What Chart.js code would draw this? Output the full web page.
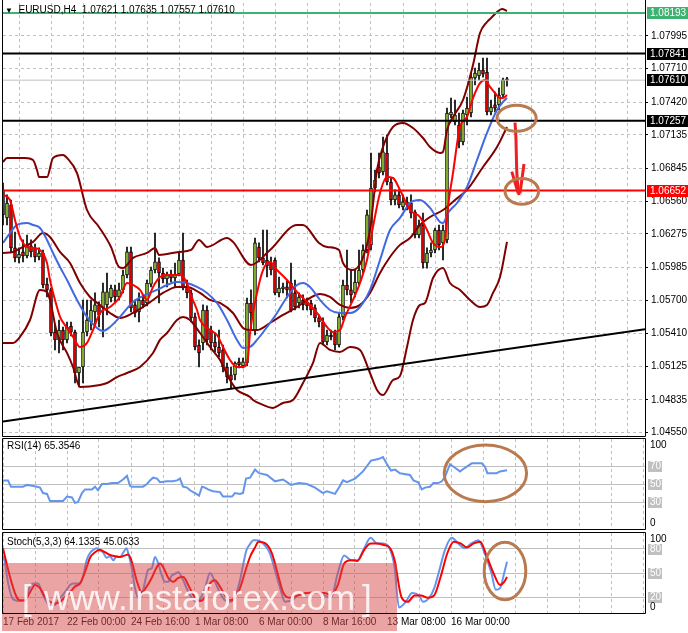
<!DOCTYPE html>
<html><head><meta charset="utf-8"><title>EURUSD H4</title>
<script src="https://cdn.jsdelivr.net/npm/chart.js@4.4.1/dist/chart.umd.min.js"></script>
<style>
html,body{margin:0;padding:0;background:#fff;}
body{width:688px;height:633px;position:relative;overflow:hidden;font-family:"Liberation Sans",Arial,sans-serif;}
canvas{position:absolute;left:0;}
#cMain{top:0}#cRsi{top:436px}#cSto{top:531px}
.lbl{position:absolute;font-size:10px;line-height:12px;color:#000;white-space:pre;}
</style></head><body>
<canvas id="cMain" width="688" height="440"></canvas>
<canvas id="cRsi" width="688" height="96"></canvas>
<canvas id="cSto" width="688" height="102"></canvas>
<div class="lbl" id="tMain" style="left:5px;top:4px"></div>
<div class="lbl" id="tRsi" style="left:7px;top:440px"></div>
<div class="lbl" id="tSto" style="left:7px;top:536px"></div>
<script>
// ---------------- DATA ----------------
const symbol = 'EURUSD,H4';
const timeTickBars = [0,16,32,48,64,80,96,112];
const timeTickLabels = ['17 Feb 2017','22 Feb 00:00','24 Feb 16:00','1 Mar 08:00','6 Mar 00:00','8 Mar 16:00','13 Mar 08:00','16 Mar 00:00'];
const priceTicks = [1.07995,1.07710,1.07420,1.07135,1.06845,1.06560,1.06275,1.05985,1.05700,1.05410,1.05125,1.04835,1.04550];
const levelPrices = [1.08193,1.07841,1.07610,1.07257,1.06652];

const open = [1.06657,1.06414,1.06527,1.06154,1.06067,1.06119,1.06084,1.06171,1.06154,1.06075,
1.06110,1.05840,1.05789,1.05424,1.05355,1.05441,1.05355,1.05476,1.05424,1.05068,
1.05120,1.05424,1.05511,1.05598,1.05659,1.05633,1.05659,1.05719,1.05789,1.05728,
1.05789,1.05919,1.06119,1.05659,1.05598,1.05702,1.05676,1.05840,1.05962,1.06032,
1.05936,1.05884,1.05927,1.05893,1.05927,1.06049,1.05823,1.05763,1.05555,1.05311,
1.05329,1.05615,1.05441,1.05337,1.05294,1.05268,1.05120,1.05051,1.05051,1.05164,
1.05129,1.05155,1.05676,1.05441,1.06162,1.06067,1.06049,1.06023,1.06049,1.05763,
1.05797,1.05815,1.05849,1.05763,1.05676,1.05702,1.05685,1.05676,1.05633,1.05546,
1.05511,1.05337,1.05398,1.05415,1.05311,1.05555,1.05832,1.05789,1.05763,1.05849,
1.05962,1.06136,1.06180,1.06674,1.06856,1.06813,1.06978,1.06726,1.06570,1.06614,
1.06510,1.06553,1.06544,1.06466,1.06266,1.06353,1.06023,1.06110,1.06136,1.06309,
1.06197,1.06223,1.07308,1.07247,1.07221,1.07074,1.07308,1.07325,1.07629,1.07646,
1.07698,1.07681,1.07334,1.07395,1.07395,1.07481,1.07621];
const high = [1.06717,1.06614,1.06570,1.06292,1.06154,1.06223,1.06266,1.06223,1.06188,1.06154,
1.06136,1.05893,1.05806,1.05485,1.05528,1.05467,1.05511,1.05511,1.05441,1.05120,
1.05702,1.05702,1.05702,1.05763,1.05685,1.05849,1.05936,1.05832,1.05832,1.05849,
1.05962,1.06162,1.06162,1.05702,1.05763,1.05728,1.05875,1.05988,1.06283,1.06067,
1.05979,1.05945,1.05962,1.06023,1.06110,1.06283,1.05875,1.05789,1.05589,1.05355,
1.05659,1.05650,1.05476,1.05415,1.05441,1.05311,1.05155,1.05120,1.05164,1.05198,
1.05198,1.05719,1.05789,1.06240,1.06197,1.06309,1.06309,1.06075,1.06067,1.05901,
1.05849,1.05875,1.06023,1.05875,1.05763,1.05746,1.05719,1.05702,1.05659,1.05572,
1.05546,1.05441,1.05441,1.05441,1.05589,1.05875,1.06136,1.05962,1.05962,1.06136,
1.06180,1.06483,1.06978,1.06830,1.06978,1.07117,1.07135,1.06761,1.06657,1.06657,
1.06614,1.06596,1.06614,1.06483,1.06396,1.06457,1.06154,1.06197,1.06327,1.06353,
1.06353,1.07368,1.07455,1.07438,1.07325,1.07351,1.07464,1.07672,1.07715,1.07759,
1.07802,1.07802,1.07438,1.07507,1.07542,1.07629,1.07635];
const low = [1.06353,1.06353,1.06119,1.06032,1.06023,1.06032,1.06067,1.06075,1.06032,1.06049,
1.05806,1.05728,1.05389,1.05268,1.05242,1.05268,1.05329,1.05389,1.04981,1.04946,
1.04981,1.05389,1.05441,1.05485,1.05467,1.05381,1.05572,1.05685,1.05676,1.05702,
1.05763,1.05893,1.05598,1.05555,1.05511,1.05633,1.05650,1.05815,1.05936,1.05676,
1.05849,1.05815,1.05858,1.05815,1.05910,1.05789,1.05719,1.05511,1.05268,1.05120,
1.05268,1.05311,1.05268,1.05250,1.05207,1.05077,1.04981,1.04938,1.05007,1.05112,
1.05112,1.05129,1.05441,1.05398,1.06032,1.06006,1.05901,1.05919,1.05746,1.05728,
1.05763,1.05719,1.05598,1.05615,1.05633,1.05615,1.05615,1.05572,1.05511,1.05467,
1.05311,1.05311,1.05355,1.05268,1.05294,1.05528,1.05746,1.05676,1.05728,1.05832,
1.05936,1.06110,1.06136,1.06639,1.06761,1.06787,1.06700,1.06527,1.06527,1.06501,
1.06483,1.06483,1.06414,1.06240,1.06240,1.05979,1.05979,1.06075,1.06110,1.06136,
1.06049,1.06197,1.07282,1.07221,1.07022,1.07048,1.07221,1.07291,1.07568,1.07612,
1.07637,1.07308,1.07308,1.07334,1.07351,1.07464,1.07557];
const close = [1.06440,1.06544,1.06154,1.06067,1.06101,1.06084,1.06180,1.06119,1.06075,1.06110,
1.05832,1.05789,1.05415,1.05355,1.05441,1.05355,1.05467,1.05424,1.05068,1.05120,
1.05424,1.05528,1.05615,1.05659,1.05572,1.05772,1.05772,1.05806,1.05728,1.05789,
1.05919,1.06119,1.05633,1.05589,1.05702,1.05659,1.05849,1.05962,1.06032,1.05936,
1.05884,1.05927,1.05893,1.05927,1.06049,1.05815,1.05763,1.05546,1.05294,1.05242,
1.05615,1.05355,1.05329,1.05294,1.05242,1.05120,1.05033,1.05007,1.05155,1.05138,
1.05164,1.05676,1.05589,1.06197,1.06067,1.06023,1.05997,1.05962,1.05763,1.05806,
1.05815,1.05789,1.05615,1.05641,1.05728,1.05659,1.05650,1.05615,1.05546,1.05511,
1.05337,1.05398,1.05381,1.05311,1.05555,1.05832,1.05789,1.05746,1.05858,1.05962,
1.06136,1.06440,1.06674,1.06743,1.06804,1.06987,1.06726,1.06570,1.06614,1.06527,
1.06553,1.06527,1.06457,1.06266,1.06353,1.06023,1.06110,1.06136,1.06309,1.06180,
1.06309,1.07325,1.07334,1.07308,1.07074,1.07325,1.07368,1.07637,1.07672,1.07698,
1.07663,1.07334,1.07377,1.07368,1.07481,1.07612,1.07610];

const bbUpperBar = [0,1,3,5.5,7.5,8.5,9,11,12.5,15,16,18.5,21,24,27,29,30,32.5,36,38,39,44,47,49,51,56,57.5,62,66.75,73.5,75,79,81,84,85,87.5,89.75,91.75,93.5,95,97.5,100,102.5,105,106.75,109.25,110,111,112.5,115,117.5,119.25,121,122.25,123.5,124.75,126];
const bbUpper = [1.06900,1.06935,1.06935,1.06935,1.06917,1.06830,1.06769,1.06769,1.06935,1.06961,1.06935,1.06804,1.06483,1.06336,1.06162,1.05988,1.05979,1.06067,1.06110,1.06154,1.06093,1.06119,1.06136,1.06223,1.06162,1.06240,1.06206,1.06006,1.06136,1.06353,1.06353,1.06197,1.06162,1.06136,1.06023,1.05962,1.06049,1.06309,1.06830,1.07030,1.07204,1.07238,1.07195,1.07108,1.07030,1.06978,1.06987,1.07178,1.07291,1.07438,1.07742,1.08020,1.08115,1.08158,1.08202,1.08228,1.08211];
const bbMidBar = [0,2.5,5,7.5,10,11.75,14.25,16.75,19.25,21.75,24.25,26.75,29.25,32.5,35,37.5,40,43.5,46,49.25,51.75,54.25,57.5,60,61.75,63.5,66.75,70,73.5,76.75,79.25,81.75,84.25,86.75,89.25,91.75,94.25,96.75,99.25,101.75,104.25,106.75,110,113,116,120,123.5,126];
const bbMid = [1.06110,1.06119,1.06162,1.06206,1.06283,1.06249,1.06119,1.06023,1.05849,1.05728,1.05659,1.05589,1.05546,1.05589,1.05641,1.05702,1.05763,1.05815,1.05815,1.05763,1.05702,1.05676,1.05589,1.05459,1.05441,1.05441,1.05502,1.05572,1.05641,1.05719,1.05754,1.05728,1.05659,1.05633,1.05659,1.05763,1.05936,1.06075,1.06180,1.06240,1.06353,1.06422,1.06483,1.06570,1.06657,1.06856,1.07030,1.07204];
const bbLowBar = [0,2.5,4.25,6.75,9.25,11,11.75,13.5,16,17.5,19.25,24.25,26,28.5,31,34.25,37.5,39.25,41,43.5,45,46.75,49.25,51.75,54.25,56.75,58.5,61.75,62.5,65,67.5,70,72.5,75,77.5,79.25,81.75,84.25,86.75,89.25,91.75,93.5,95,97.5,99.25,101,102.5,104.25,105.5,107.5,110,111.75,114.25,116.75,119.25,121,122.5,124.25,126];
const bbLow = [1.05329,1.05329,1.05381,1.05528,1.05789,1.05772,1.05702,1.05415,1.05242,1.05120,1.04946,1.04964,1.04981,1.05033,1.05068,1.05120,1.05242,1.05355,1.05415,1.05528,1.05555,1.05528,1.05415,1.05294,1.05181,1.05007,1.04921,1.04860,1.04834,1.04791,1.04765,1.04808,1.04834,1.04981,1.05155,1.05329,1.05268,1.05250,1.05294,1.05268,1.05068,1.04921,1.04877,1.05007,1.05042,1.05294,1.05528,1.05659,1.05676,1.05893,1.05979,1.05849,1.05789,1.05702,1.05641,1.05659,1.05763,1.05901,1.06206];
const maSlowBar = [0,1.75,3.5,6,7.5,9.25,11,12.5,14.25,16,18.5,21,23.5,25,26.75,29.25,32.5,35,38.5,41,43.5,46,48.5,51,53.5,56,58.5,60,61.75,63.5,66,68.5,71,73.5,75,76.75,79.25,81.75,84.25,86.75,89.25,91.75,94.25,96.75,99.25,101.75,104.25,106.75,109.25,110,111.25,113.5,116,118.5,121,123.5,125,126];
const maSlow = [1.06197,1.06283,1.06353,1.06370,1.06353,1.06327,1.06223,1.06110,1.05988,1.05875,1.05702,1.05555,1.05459,1.05433,1.05467,1.05555,1.05685,1.05737,1.05789,1.05832,1.05858,1.05849,1.05815,1.05763,1.05676,1.05528,1.05355,1.05285,1.05294,1.05355,1.05467,1.05589,1.05728,1.05832,1.05849,1.05815,1.05702,1.05615,1.05589,1.05589,1.05641,1.05789,1.06049,1.06309,1.06414,1.06544,1.06570,1.06501,1.06379,1.06370,1.06457,1.06544,1.06683,1.06917,1.07152,1.07351,1.07421,1.07455];
const maFastBar = [0,1.75,3,4.25,6,7.5,9.25,11,11.75,13,14.25,16,17.5,19.25,21,22.5,24.25,26.75,29.25,31,32.5,34.25,36,37.5,39.25,41,44.25,46,46.75,48.5,49.25,51.75,53.5,55,56.75,58.5,60,61.25,61.75,63.5,65,66.75,68.5,71,73.5,76,78.5,81,82.5,84.25,85.5,87.5,89.25,91,92.5,94.25,96,97.5,99.25,101.75,104.25,106,107.5,109.25,110.5,111.25,112.5,114.25,116,117.5,119.25,120.5,121.75,123,124.25,125,126];
const maFast = [1.06614,1.06570,1.06396,1.06249,1.06162,1.06154,1.06136,1.06023,1.05875,1.05702,1.05555,1.05459,1.05381,1.05294,1.05329,1.05441,1.05589,1.05641,1.05728,1.05849,1.05832,1.05789,1.05702,1.05815,1.05901,1.05919,1.05919,1.05849,1.05763,1.05615,1.05528,1.05441,1.05398,1.05294,1.05181,1.05120,1.05120,1.05207,1.05415,1.05763,1.05962,1.06032,1.05962,1.05875,1.05772,1.05685,1.05589,1.05467,1.05424,1.05441,1.05555,1.05702,1.05849,1.06049,1.06336,1.06631,1.06769,1.06761,1.06657,1.06483,1.06422,1.06309,1.06197,1.06162,1.06223,1.06509,1.06804,1.07204,1.07291,1.07455,1.07585,1.07612,1.07551,1.07499,1.07455,1.07455,1.07481];
const trendBar = [0,160.5];
const trendPrice = [1.04647,1.05447];

const rsiBar = [0,1.25,2,5,6,7.25,8.5,9.25,10,11,11.75,15,16,17.25,18,18.75,19.75,20.5,22.25,23,23.75,24.75,26,27.25,28.75,30,31,31.75,32.25,35,36,36.75,37.5,38.5,39.25,41,42.5,43.5,44.25,45,46,46.75,48,49,49.75,50.5,51.25,52.5,54.25,55,57.25,58,59.25,60,60.75,61.75,63,64,66,68,70,72,74,76,78,80,81,83,84,85,86,88,89,90,91,92,93,94,95,96,97,98,99.25,101.75,102.6,103.8,104.7,105.5,106.75,107.6,108.8,109.7,110.5,111.75,113,114.25,115.5,117.2,119.7,120.5,121.1,123.4,124.25,126];
const rsi = [54,54,47,47,49,48,47,46,40,39,31,31,36,35,29,30,40,44,44,47,43,50,50,51,51,55,59,48,47,47,50,54,57,56,52,53,53,54,56,47,46,43,40,37,47,46,44,42,41,36,36,40,39,40,56,57,66,62,60,53,55,49,51,50,46,40,42,39,46,54,52,56,60,64,70,76,77,78,80,72,65,66,62,60,54,52,44,46,47,51,51,53,58,72,68,64,68,73,73,69,62,62,64,65.3546];
const rsiLevels = [70,50,30];
const rsiTicks = [100,70,50,30,0];

const stochKBar = [0,0.5,1.3,2.2,3,4.25,5.5,6.75,7.6,8.8,9.7,10.9,11.75,13,13.8,14.7,15.9,16.75,17.6,19.25,20,20.9,21.75,22.6,23.4,24.25,25,25.9,26.75,27.6,28.4,29.25,30,30.9,31.3,32.2,33,33.8,34.7,35.5,36.3,37.2,38,38.8,39.7,40.5,41.3,42.2,43,43.8,44.7,45.9,47.2,48.4,49.25,50.5,51.75,53,54.25,55.5,56.75,58,59.25,60.1,60.9,61.75,62.6,63.4,65,66.7,67.8,69.4,70.5,72.2,73.8,76,78.2,80.4,82,83.7,85.3,87,88.6,90.3,91.9,93.5,95.2,96.8,97.9,99,100.7,102.3,104,105,106.7,107.8,108.9,110.5,112.2,113.8,115.5,117.1,118.8,120.4,122.1,123.2,124.25,125.3,126];
const stochK = [72,62,37,20,16,15,16,33,37,37,26,14,10,10,16,21,29,35,37,37,45,66,75,79,81,78,76,69,71,66,71,70,75,81,75,56,31,19,22,39,54,56,70,62,47,39,39,47,49,51,45,31,19,14,17,31,50,39,25,16,14,20,41,62,79,86,91,91,87,75,57,29,14,16,22,25,26,22,19,50,72,66,66,81,94,87,87,79,57,7,14,25,22,14,20,31,50,79,94,87,81,87,91,75,50,29,31,50,64.1335];
const stochDBar = [0,0.9,2.2,3.4,4.25,5.5,6.75,8,9.25,10.5,11.75,13,14.25,15.5,16.75,18,19.25,20,20.9,21.75,23,24.25,25.5,26.75,28,29.25,30.5,31.3,32.2,33.4,34.7,35.9,37.2,38.4,39.25,40.1,41.3,42.6,43.8,45.1,46.3,48,49.25,50.5,51.75,53,54.25,55.5,56.75,58,59.25,60.5,61.75,63,63.9,65.6,67.2,68.9,70,71.6,73.8,76,78.2,80.4,82,83.7,85.3,87,88.6,90.3,91.9,93.5,95.2,96.8,97.9,99.6,101.2,102.9,104.5,106.2,107.8,109.4,111.1,112.7,114.4,116,117.7,119.3,121,122.6,124.25,125.3,126];
const stochD = [81,62,37,20,16,16,26,35,31,20,14,12,14,20,26,33,37,45,57,69,76,79,76,72.5,71,70,72,73,64,41,26,33,44,57,62,57,44,39,44,45,35,19,15,20,37,41,33,22,16,19,31,51,70,82,89,87,75,45,26,19,22,25,25,25,22,35,62,66,65,79,87,87,85,81,66,20,14,22,22,19,22,45,75,89,87,82,87,89,70,50,35,39,45.0633];
const stochLevels = [80,50,20];
const stochTicks = [100,80,50,20,0];

// hand-drawn annotations (data units)
const arrowShaftBar = [128,128.25,128.4,129], arrowShaftPrice = [1.07241,1.07091,1.06859,1.06613];
const arrowLeftBar = [127.2,128.8], arrowLeftPrice = [1.06816,1.06628];
const arrowRightBar = [130.25,129.25], arrowRightPrice = [1.06882,1.06628];

// ---------------- LAYOUT / STYLE ----------------
const BAR_MIN = 0, BAR_MAX = 160.5, GRID_STEP = 8;
const P_MIN = 1.04521, P_MAX = 1.08280;
const AXIS_W = 43;
const FONT = '"Liberation Sans", Arial, sans-serif';
const BULL = '#9acd32', BEAR = '#ff0000';
const GRID = '#c0c0c0';
const ANNO = '#b97a50';
const levelStyles = [
  {line:'#3cb371', w:2, box:'#3cb371'},
  {line:'#000000', w:2, box:'#000000'},
  {line:'#c0c0c0', w:1, box:'#000000'},
  {line:'#000000', w:2, box:'#000000'},
  {line:'#ff0000', w:2, box:'#ff0000'}
];
const mainEllipses = [ {bar:128.4, price:1.07279, rb:4.9, rp:0.00113}, {bar:129.7, price:1.06645, rb:4.2, rp:0.00112} ];
const rsiEllipse = {bar:120.6, val:61.9, rb:10.3, rv:31.5};
const stochEllipse = {bar:125.5, val:52.5, rb:5.2, rv:36};

Chart.defaults.font.family = FONT;
Chart.defaults.font.size = 10;
Chart.defaults.color = '#000';

const pts = (xs, ys) => xs.map((x, i) => ({x, y: ys[i]}));
const gridBars = [];
for (let b = BAR_MIN; b <= BAR_MAX; b += GRID_STEP) gridBars.push(b);

function lineDs(xs, ys, color, width, order, tension) {
  return {type:'line', data: pts(xs, ys), borderColor: color, borderWidth: width, pointRadius: 0,
    tension: tension, cubicInterpolationMode: tension ? 'monotone' : 'default', order: order, fill: false};
}
function xGridScale() {
  return {type:'linear', min: BAR_MIN, max: BAR_MAX, offset:false,
    afterBuildTicks: s => { s.ticks = gridBars.map(v => ({value: v})); },
    afterFit: s => { s.height = 0; s.paddingLeft = 0; s.paddingRight = 0; },
    ticks:{display:false}, grid:{color: GRID, drawTicks:false, lineWidth:1}, border:{display:false, dash:[3,3]}};
}
function framePlugin() {
  return {id:'frame', afterDraw(chart, args, opts) {
    const a = chart.chartArea, c = chart.ctx;
    const l = Math.round(a.left) - 0.5, r = Math.round(a.right) + 0.5, t = Math.round(a.top) - 0.5, b = Math.round(a.bottom) + 0.5;
    c.save(); c.strokeStyle = '#000'; c.lineWidth = 1; c.beginPath();
    c.moveTo(l, b); c.lineTo(l, opts.top ? t : 0);
    if (opts.top) { c.moveTo(l, t); c.lineTo(r, t); }
    c.moveTo(r, opts.top ? t : 0); c.lineTo(r, b);
    c.moveTo(l, b); c.lineTo(r, b);
    c.stroke(); c.restore();
  }};
}
const common = {responsive:false, animation:false, devicePixelRatio:1, events:[],
  plugins:{legend:{display:false}, tooltip:{enabled:false}}};

// ---------------- MAIN CHART ----------------
const mainExtras = {id:'mainExtras', afterDraw(chart) {
  const {ctx, chartArea: a, scales: {x, y}} = chart;
  ctx.save();
  ctx.font = '10px ' + FONT; ctx.textBaseline = 'middle'; ctx.textAlign = 'left';
  levelPrices.forEach((p, i) => {
    const py = Math.round(y.getPixelForValue(p));
    ctx.fillStyle = levelStyles[i].box; ctx.fillRect(a.right + 2, py - 6, 41, 12);
    ctx.fillStyle = '#fff'; ctx.fillText(p.toFixed(5), a.right + 5, py + 0.5);
  });
  ctx.strokeStyle = ANNO; ctx.lineWidth = 3;
  mainEllipses.forEach(e => {
    const cx = x.getPixelForValue(e.bar), cy = y.getPixelForValue(e.price);
    const rx = Math.abs(x.getPixelForValue(e.bar + e.rb) - cx), ry = Math.abs(y.getPixelForValue(e.price + e.rp) - cy);
    ctx.beginPath(); ctx.ellipse(cx, cy, rx, ry, 0, 0, Math.PI * 2); ctx.stroke();
  });
  ctx.restore();
}};

const mainDatasets = [
  {type:'bar', data: open.map((o, i) => ({x: i, y: [low[i], high[i]]})), backgroundColor:'#000', barThickness:1, grouped:false, order:20},
  {type:'bar', data: open.map((o, i) => ({x: i, y: [o, close[i]]})), backgroundColor: open.map((o, i) => close[i] >= o ? BULL : BEAR),
    borderColor:'#000', borderWidth:1, borderSkipped:false, barThickness:3, grouped:false, order:19},
  lineDs(bbUpperBar, bbUpper, '#800000', 2, 6, 0.3),
  lineDs(bbMidBar, bbMid, '#800000', 2, 6, 0.3),
  lineDs(bbLowBar, bbLow, '#800000', 2, 6, 0.3),
  lineDs(maSlowBar, maSlow, '#4169e1', 2, 5, 0.3),
  lineDs(maFastBar, maFast, '#ff0000', 2, 4, 0.3),
  lineDs(trendBar, trendPrice, '#000000', 2, 1, 0),
  ...levelPrices.map((p, i) => lineDs([BAR_MIN, BAR_MAX], [p, p], levelStyles[i].line, levelStyles[i].w, 1, 0)),
  lineDs(arrowShaftBar, arrowShaftPrice, '#f02020', 3, 0, 0.3),
  lineDs(arrowLeftBar, arrowLeftPrice, '#f02020', 3, 0, 0),
  lineDs(arrowRightBar, arrowRightPrice, '#f02020', 3, 0, 0)
];

new Chart(document.getElementById('cMain'), {
  type:'line',
  data:{datasets: mainDatasets},
  options:{...common,
    layout:{padding:{left:3, right:0, top:3, bottom:4}},
    scales:{
      x: xGridScale(),
      y: {position:'right', min:P_MIN, max:P_MAX,
        afterBuildTicks: s => { s.ticks = priceTicks.map(v => ({value: v})); },
        afterFit: s => { s.width = AXIS_W; s.paddingTop = 0; s.paddingBottom = 0; },
        ticks:{callback: v => Number(v).toFixed(5), color:'#000', padding:3, autoSkip:false, font:{size:10}},
        grid:{color: GRID, lineWidth:1, drawTicks:true, tickLength:3, tickColor:'#000'},
        border:{display:false, dash:[3,3]}}
    },
    plugins:{...common.plugins, frame:{top:false}}
  },
  plugins:[framePlugin(), mainExtras]
});

// ---------------- OSCILLATOR PANELS ----------------
function panelLabels(chart, ticks, levels) {
  const {ctx, chartArea: a, scales: {y}} = chart;
  ctx.save(); ctx.font = '10px ' + FONT; ctx.textBaseline = 'middle'; ctx.textAlign = 'left';
  ticks.forEach(v => {
    let py = y.getPixelForValue(v);
    py = Math.min(Math.max(py, a.top + 6), a.bottom - 6);
    if (levels.includes(v)) {
      ctx.fillStyle = '#c0c0c0'; ctx.fillRect(a.right + 3, py - 5, 14, 11);
      ctx.fillStyle = '#ffffff';
    } else ctx.fillStyle = '#000';
    ctx.fillText(String(v), a.right + 5, py + 0.5);
  });
  ctx.restore();
}
function drawEllipse(chart, e) {
  const {ctx, scales: {x, y}} = chart;
  const cx = x.getPixelForValue(e.bar), cy = y.getPixelForValue(e.val);
  const rx = Math.abs(x.getPixelForValue(e.bar + e.rb) - cx), ry = Math.abs(y.getPixelForValue(e.val + e.rv) - cy);
  ctx.save(); ctx.strokeStyle = ANNO; ctx.lineWidth = 3;
  ctx.beginPath(); ctx.ellipse(cx, cy, rx, ry, 0, 0, Math.PI * 2); ctx.stroke(); ctx.restore();
}
function oscY(levels) {
  return {position:'right', min:0, max:100,
    afterBuildTicks: s => { s.ticks = levels.map(v => ({value: v})); },
    afterFit: s => { s.width = AXIS_W; s.paddingTop = 0; s.paddingBottom = 0; },
    ticks:{display:false}, grid:{color: GRID, drawTicks:false, lineWidth:1}, border:{display:false}};
}

new Chart(document.getElementById('cRsi'), {
  type:'line',
  data:{datasets:[lineDs(rsiBar, rsi, '#6495ed', 2, 1, 0)]},
  options:{...common,
    layout:{padding:{left:3, right:0, top:3, bottom:3}},
    scales:{x: xGridScale(), y: oscY(rsiLevels)},
    plugins:{...common.plugins, frame:{top:true}}
  },
  plugins:[framePlugin(), {id:'rsiExtras', afterDraw(chart) { panelLabels(chart, rsiTicks, rsiLevels); drawEllipse(chart, rsiEllipse); }}]
});

new Chart(document.getElementById('cSto'), {
  type:'line',
  data:{datasets:[lineDs(stochKBar, stochK, '#6495ed', 2, 2, 0.25), lineDs(stochDBar, stochD, '#ff0000', 2, 1, 0.25)]},
  options:{...common,
    layout:{padding:{left:3, right:0, top:2, bottom:0}},
    scales:{
      x: xGridScale(),
      x2: {type:'linear', position:'bottom', min:BAR_MIN, max:BAR_MAX, z:1, offset:false,
        afterBuildTicks: s => { s.ticks = timeTickBars.map(v => ({value: v})); },
        afterFit: s => { s.height = 20; s.paddingLeft = 0; s.paddingRight = 0; },
        ticks:{autoSkip:false, maxRotation:0, minRotation:0, align:'start', padding:3, color:'#000', font:{size:10},
          callback: v => { const k = timeTickBars.indexOf(v); return k >= 0 ? timeTickLabels[k] : ''; }},
        grid:{display:false, drawTicks:false}, border:{display:false}},
      y: oscY(stochLevels)
    },
    plugins:{...common.plugins, frame:{top:true}}
  },
  plugins:[framePlugin(), {id:'stoExtras',
    afterDatasetsDraw(chart) {
      const c = chart.ctx; c.save();
      c.fillStyle = 'rgba(214,74,74,0.5)'; c.fillRect(2, 32, 395, 68);
      c.fillStyle = 'rgba(255,255,255,0.85)'; c.font = '35px ' + FONT; c.textBaseline = 'alphabetic';
      c.fillText('[', 22, 79); c.fillText('www.instaforex.com', 44, 79); c.fillText(']', 362, 79);
      c.restore();
    },
    afterDraw(chart) { panelLabels(chart, stochTicks, stochLevels); drawEllipse(chart, stochEllipse); }}]
});

// ---------------- TEXT ----------------
const last = open.length - 1;
document.getElementById('tMain').innerHTML = '<span style="font-size:8px">&#9660;</span>  ' + symbol + '  ' +
  [open[last], high[last], low[last], close[last]].map(v => v.toFixed(5)).join(' ');
document.getElementById('tRsi').textContent = 'RSI(14) ' + rsi[rsi.length - 1].toFixed(4);
document.getElementById('tSto').textContent = 'Stoch(5,3,3) ' + stochK[stochK.length - 1].toFixed(4) + ' ' + stochD[stochD.length - 1].toFixed(4);
</script>
</body></html>
